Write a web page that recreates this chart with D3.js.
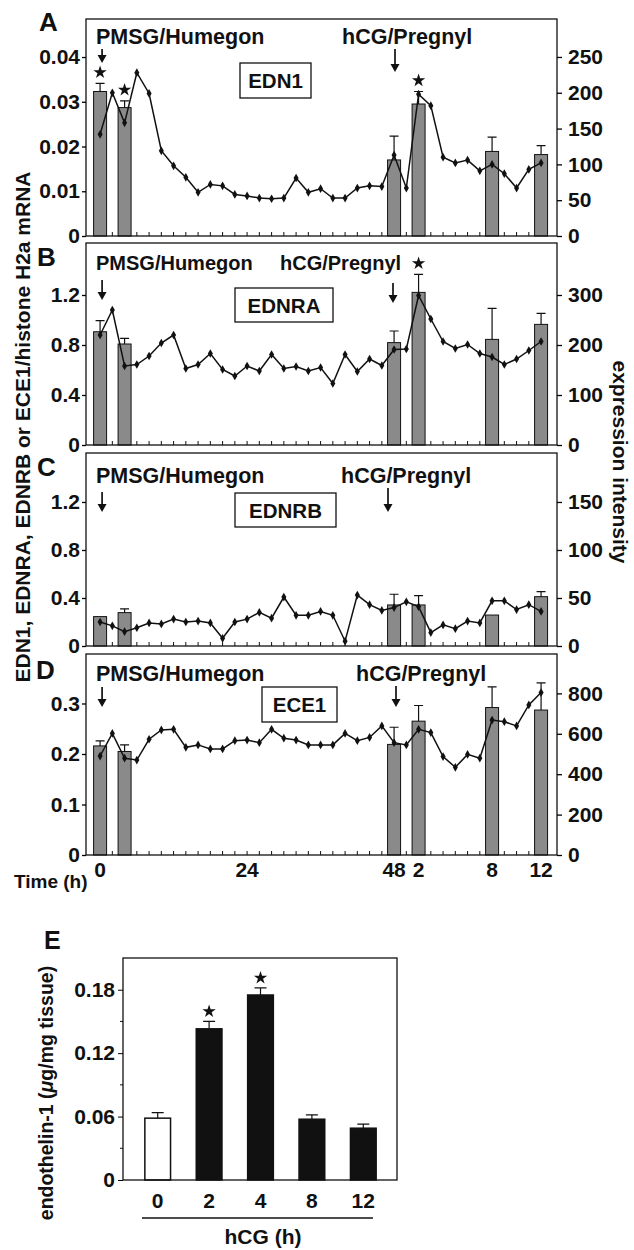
<!DOCTYPE html>
<html>
<head>
<meta charset="utf-8">
<title>Endothelin system expression</title>
<script src="https://cdn.jsdelivr.net/npm/d3@7/dist/d3.min.js"></script>
<style>
	body { margin: 0; background: #fff; }
	svg text {
		font-family: "Liberation Sans", Arial, Helvetica, sans-serif;
		font-weight: bold;
		fill: #111;
	}
	.frame { fill: none; stroke: #111; stroke-width: 1.3; }
	.bar   { fill: #8a8a8a; stroke: #111; stroke-width: 1; }
	.err   { stroke: #111; stroke-width: 1.2; fill: none; }
	.trace { fill: none; stroke: #111; stroke-width: 1.5; }
</style>
</head>
<body>
<div id="chart"></div>
<script>
// time points: 0..48 h every 2 h after PMSG, then 1..12 h after hCG (37 points)
var timeIdx     = d3.range(37);
var xTickIdx    = [0, 12, 24, 26, 32, 36];
var xTickLabels = ["0", "24", "48", "2", "8", "12"];
var barIdx      = [0, 2, 24, 26, 32, 36];

var genes   = ["EDN1", "EDNRA", "EDNRB", "ECE1"];
var letters = ["A", "B", "C", "D"];

// qPCR bars (left axis) and their error tops
var edn1Bars  = [0.0323, 0.0287, 0.0170, 0.0295, 0.0189, 0.0182];
var edn1Err   = [0.0341, 0.0302, 0.0223, 0.0323, 0.0221, 0.0202];
var ednraBars = [0.906, 0.808, 0.819, 1.221, 0.845, 0.965];
var ednraErr  = [0.995, 0.853, 0.912, 1.365, 1.093, 1.053];
var ednrbBars = [0.245, 0.278, 0.342, 0.342, 0.258, 0.411];
var ednrbErr  = [0.245, 0.310, 0.431, 0.420, 0.258, 0.453];
var ece1Bars  = [0.216, 0.205, 0.219, 0.265, 0.292, 0.287];
var ece1Err   = [0.226, 0.218, 0.253, 0.296, 0.333, 0.341];

// microarray expression intensity (right axis)
var edn1Line  = [142,200,158,228,199,119,98,82,61,72,70,58,56,53,52,53,81,61,66,53,53,67,70,69,113,67,198,182,110,102,106,91,100,87,67,93,102];
var ednraLine = [220,270,158,161,178,204,220,153,161,183,151,138,158,148,181,153,157,148,155,123,181,147,172,159,191,192,299,252,207,193,201,183,176,161,172,189,207];
var ednrbLine = [25,21,15,19,24,23,28,25,26,24,8,25,28,35,29,51,32,32,36,32,5,53,43,37,40,46,41,14,22,18,26,24,47,47,38,43,36];
var ece1Line  = [490,602,479,470,573,619,622,533,545,525,525,566,569,556,622,578,569,545,545,545,602,566,582,639,556,545,622,606,487,434,498,479,668,660,639,743,804];

// significance stars (bar index positions)
var edn1Stars  = [0, 2, 26];
var ednraStars = [26];

// axis ticks
var leftTicks  = [[0, 0.01, 0.02, 0.03, 0.04], [0, 0.4, 0.8, 1.2], [0, 0.4, 0.8, 1.2], [0, 0.1, 0.2, 0.3]];
var rightTicks = [[0, 50, 100, 150, 200, 250], [0, 100, 200, 300], [0, 50, 100, 150], [0, 200, 400, 600, 800]];
var leftMax    = [0.0485, 1.616, 1.608, 0.398];
var rightMax   = [303, 404, 201, 995];

// panel E: endothelin-1 protein
var hcgHours = ["0", "2", "4", "8", "12"];
var et1Vals  = [0.0585, 0.143, 0.175, 0.0575, 0.049];
var et1Err   = [0.0638, 0.150, 0.1817, 0.0616, 0.0528];
var et1Stars = ["2", "4"];
var et1Ticks = [0, 0.06, 0.12, 0.18];

var panels = [
	{ bars: edn1Bars,  err: edn1Err,  line: edn1Line,  stars: edn1Stars,  fmt: ".2f" },
	{ bars: ednraBars, err: ednraErr, line: ednraLine, stars: ednraStars, fmt: ".1f" },
	{ bars: ednrbBars, err: ednrbErr, line: ednrbLine, stars: [],         fmt: ".1f" },
	{ bars: ece1Bars,  err: ece1Err,  line: ece1Line,  stars: [],         fmt: ".1f" }
];

// layout of the four stacked panels (offsets relative to panel top)
var layout = [
	{ top: 19,  bottom: 236, txt: 25, fs: 21.5, pmsgX: 96, hcgX: 342, arrP: [30, 44], arrH: [30, 53], hcgArrX: 395, box: [240, 311, 44, 79] },
	{ top: 243, bottom: 445, txt: 27, fs: 20,   pmsgX: 96, hcgX: 280, arrP: [37, 57], arrH: [40, 60], hcgArrX: 393, box: [235, 333, 45, 79] },
	{ top: 453, bottom: 646, txt: 30, fs: 21.5, pmsgX: 96, hcgX: 341, arrP: [39, 59], arrH: [35, 59], hcgArrX: 388, box: [235, 336, 40, 74] },
	{ top: 654, bottom: 855, txt: 27, fs: 21.5, pmsgX: 96, hcgX: 356, arrP: [33, 53], arrH: [32, 53], hcgArrX: 396, box: [262, 337, 33, 68] }
];
var letterPos = [[39, 31], [37, 266], [37, 476], [36, 679]];

var width = 634, height = 1250;
var svg = d3.select("#chart").append("svg")
	.attr("width", width)
	.attr("height", height);

var x = d3.scaleLinear().domain([-1.15, 37.3]).range([86, 557]);
var barW = 13;

function arrow(g, cx, y1, y2) {
	g.append("line").attr("x1", cx).attr("x2", cx).attr("y1", y1).attr("y2", y2 - 6)
		.attr("stroke", "#111").attr("stroke-width", 1.7);
	g.append("path")
		.attr("d", "M" + (cx - 4.5) + "," + (y2 - 8) + "L" + (cx + 4.5) + "," + (y2 - 8) + "L" + cx + "," + y2 + "Z")
		.attr("fill", "#111");
}

function star(g, cx, cy) {
	g.append("path")
		.attr("d", d3.symbol().type(d3.symbolStar).size(55)())
		.attr("transform", "translate(" + cx + "," + cy + ")")
		.attr("fill", "#111");
}

panels.forEach(function(p, k) {
	var L = layout[k];
	var g = svg.append("g");
	var yL = d3.scaleLinear().domain([0, leftMax[k]]).range([L.bottom, L.top]);
	var yR = d3.scaleLinear().domain([0, rightMax[k]]).range([L.bottom, L.top]);

	// bottom minor ticks (inside)
	g.selectAll(".xt").data(timeIdx).enter().append("line")
		.attr("x1", d => x(d)).attr("x2", d => x(d))
		.attr("y1", L.bottom).attr("y2", L.bottom - 4)
		.attr("stroke", "#111").attr("stroke-width", 1);

	// bars
	var bd = barIdx.map((t, i) => ({ t: t, v: p.bars[i], e: p.err[i] }));
	g.selectAll(".bar").data(bd).enter().append("rect")
		.attr("class", "bar")
		.attr("x", d => x(d.t) - barW / 2)
		.attr("width", barW)
		.attr("y", d => yL(d.v))
		.attr("height", d => L.bottom - yL(d.v));

	// error bars
	bd.filter(d => d.e > d.v).forEach(function(d) {
		g.append("path").attr("class", "err")
			.attr("d", "M" + x(d.t) + "," + yL(d.v) + "V" + yL(d.e) +
				"M" + (x(d.t) - 4.5) + "," + yL(d.e) + "H" + (x(d.t) + 4.5));
	});

	// microarray trace
	var line = d3.line().x((d, i) => x(i)).y(d => yR(d));
	g.append("path").attr("class", "trace").attr("d", line(p.line));
	g.selectAll(".pt").data(p.line).enter().append("path")
		.attr("d", d3.symbol().type(d3.symbolDiamond).size(22)())
		.attr("transform", (d, i) => "translate(" + x(i) + "," + yR(d) + ")")
		.attr("fill", "#111");

	// stars
	p.stars.forEach(function(t) {
		var i = barIdx.indexOf(t);
		star(g, x(t), yL(p.err[i]) - 11);
	});

	// frame
	g.append("rect").attr("class", "frame")
		.attr("x", 86).attr("y", L.top)
		.attr("width", 557 - 86).attr("height", L.bottom - L.top);

	// axes
	var fmt = d3.format(p.fmt);
	var ax = g.append("g").attr("transform", "translate(86,0)")
		.call(d3.axisLeft(yL).tickValues(leftTicks[k]).tickSize(4).tickPadding(2)
			.tickFormat(d => d === 0 ? "0" : fmt(d)));
	var ar = g.append("g").attr("transform", "translate(557,0)")
		.call(d3.axisRight(yR).tickValues(rightTicks[k]).tickSize(5).tickPadding(6));
	[ax, ar].forEach(function(a) {
		a.select(".domain").remove();
		a.selectAll("text").style("font-size", "21px");
		a.selectAll("line").attr("stroke-width", 1.3);
	});

	// treatment labels and arrows
	g.append("text").attr("x", L.pmsgX).attr("y", L.top + L.txt)
		.style("font-size", L.fs + "px").text("PMSG/Humegon");
	g.append("text").attr("x", L.hcgX).attr("y", L.top + L.txt)
		.style("font-size", L.fs + "px").text("hCG/Pregnyl");
	arrow(g, x(0) + 2, L.top + L.arrP[0], L.top + L.arrP[1]);
	arrow(g, L.hcgArrX, L.top + L.arrH[0], L.top + L.arrH[1]);

	// gene box
	var b = L.box;
	g.append("rect").attr("x", b[0]).attr("y", L.top + b[2])
		.attr("width", b[1] - b[0]).attr("height", b[3] - b[2])
		.attr("fill", "#fff").attr("stroke", "#111").attr("stroke-width", 1.3);
	g.append("text").attr("x", (b[0] + b[1]) / 2).attr("y", L.top + (b[2] + b[3]) / 2 + 7.5)
		.attr("text-anchor", "middle").style("font-size", "20.5px").text(genes[k]);

	// panel letter
	svg.append("text").attr("x", letterPos[k][0]).attr("y", letterPos[k][1])
		.style("font-size", "26px").text(letters[k]);
});

// bottom time labels
svg.selectAll(".xl").data(xTickIdx).enter().append("text")
	.attr("x", d => x(d)).attr("y", 877)
	.attr("text-anchor", "middle").style("font-size", "21px")
	.text((d, i) => xTickLabels[i]);
svg.append("text").attr("x", 14).attr("y", 888).style("font-size", "19px").text("Time (h)");

// shared axis titles
svg.append("text")
	.attr("transform", "translate(30,427) rotate(-90)")
	.attr("text-anchor", "middle").style("font-size", "21px")
	.text("EDN1, EDNRA, EDNRB or ECE1/histone H2a mRNA");
svg.append("text")
	.attr("transform", "translate(613,462) rotate(90)")
	.attr("text-anchor", "middle").style("font-size", "21px")
	.text("expression intensity");

// ---- panel E ----
var gE = svg.append("g");
var xE = d3.scaleBand().domain(hcgHours).range([132, 389]).paddingInner(0.5).paddingOuter(0.25);
var yE = d3.scaleLinear().domain([0, 0.21]).range([1180, 958]);

gE.selectAll(".mt").data(d3.range(0.03, 0.21, 0.06)).enter().append("line")
	.attr("x1", 123).attr("x2", 120).attr("y1", d => yE(d)).attr("y2", d => yE(d))
	.attr("stroke", "#111");

var ed = hcgHours.map((h, i) => ({ h: h, v: et1Vals[i], e: et1Err[i] }));
gE.selectAll(".ebar").data(ed).enter().append("rect")
	.attr("x", d => xE(d.h)).attr("width", xE.bandwidth())
	.attr("y", d => yE(d.v)).attr("height", d => yE(0) - yE(d.v))
	.attr("fill", (d, i) => i === 0 ? "#fff" : "#111")
	.attr("stroke", "#111").attr("stroke-width", 1.5);
ed.forEach(function(d) {
	var cx = xE(d.h) + xE.bandwidth() / 2;
	gE.append("path").attr("class", "err")
		.attr("d", "M" + cx + "," + yE(d.v) + "V" + yE(d.e) + "M" + (cx - 6) + "," + yE(d.e) + "H" + (cx + 6));
});
et1Stars.forEach(function(h) {
	var i = hcgHours.indexOf(h);
	star(gE, xE(h) + xE.bandwidth() / 2, yE(et1Err[i]) - 10);
});

gE.append("rect").attr("class", "frame")
	.attr("x", 123).attr("y", 958).attr("width", 397 - 123).attr("height", 1180 - 958);

var axE = gE.append("g").attr("transform", "translate(123,0)")
	.call(d3.axisLeft(yE).tickValues(et1Ticks).tickSize(5).tickPadding(3)
		.tickFormat(d => d === 0 ? "0" : d3.format(".2f")(d)));
axE.select(".domain").remove();
axE.selectAll("text").style("font-size", "21px");

gE.selectAll(".exl").data(hcgHours).enter().append("text")
	.attr("x", d => xE(d) + xE.bandwidth() / 2).attr("y", 1208)
	.attr("text-anchor", "middle").style("font-size", "21px").text(d => d);
gE.append("line").attr("x1", 142).attr("x2", 373).attr("y1", 1218).attr("y2", 1218)
	.attr("stroke", "#111").attr("stroke-width", 1.3);
gE.append("text").attr("x", 263).attr("y", 1244).attr("text-anchor", "middle")
	.style("font-size", "21px").text("hCG (h)");

var tE = gE.append("text")
	.attr("transform", "translate(53,1093) rotate(-90)")
	.attr("text-anchor", "middle").style("font-size", "19.5px");
tE.append("tspan").text("endothelin-1 (");
tE.append("tspan").style("font-style", "italic").text("μ");
tE.append("tspan").text("g/mg tissue)");

svg.append("text").attr("x", 44).attr("y", 949).style("font-size", "25px").text("E");
</script>
</body>
</html>
